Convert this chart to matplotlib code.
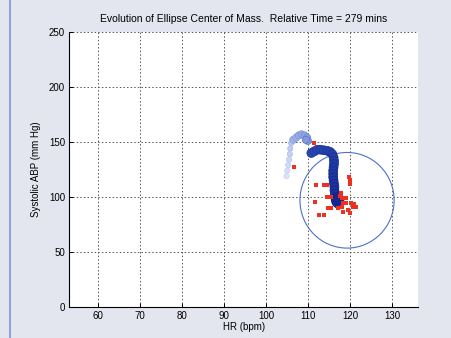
import numpy as np
import matplotlib.pyplot as plt
from matplotlib.patches import Ellipse
from matplotlib.lines import Line2D
from matplotlib.colors import LinearSegmentedColormap

# ellipse centre-of-mass trail, time ordered (earliest first)
trail_hr = [104.9, 105.1, 105.3, 105.5, 105.7, 105.8, 106.0,
            106.5, 107.2, 107.8, 108.5, 109.2, 109.8, 110.0, 109.5,
            110.8, 111.5, 112.2, 113.0, 113.8, 114.6, 115.3, 115.8, 116.1,
            116.2, 116.2, 116.1, 116.0, 116.0, 116.0, 116.1, 116.2, 116.3,
            116.3, 116.4, 116.5, 116.6, 116.8, 117.1, 117.4, 117.5, 117.3,
            116.9, 116.6]
trail_sbp = [119, 124, 129, 134, 139, 144, 149,
             152, 154, 156, 157, 156, 154, 151, 152,
             140, 141.5, 143, 143, 142.5, 142, 141, 139, 136,
             133, 130, 127, 124, 121, 118, 115, 112, 109,
             106, 103, 100, 97, 95, 94, 95, 97, 99,
             100, 98]

# current beat samples
beat_hr = [111.4, 106.6, 119.7, 119.9, 120.0, 111.9, 113.8, 114.6, 111.7,
           117.9, 117.6, 118.1, 119.1, 118.3, 119.1, 120.3, 121.0, 121.4,
           120.8, 117.1, 118.1, 118.3, 119.5, 119.9, 114.8, 115.6, 112.7,
           113.8, 114.6, 115.4]
beat_sbp = [149.4, 127.0, 118.5, 115.0, 112.0, 111.2, 111.2, 111.2, 95.2,
            103.4, 100.9, 98.8, 98.8, 94.3, 94.3, 94.8, 93.6, 91.2,
            90.6, 89.7, 90.6, 86.6, 88.2, 85.2, 89.7, 89.7, 83.6,
            83.6, 99.7, 99.7]

ell_center = (119.3, 97.0)
ell_width, ell_height = 22.4, 87.0

title = 'Evolution of Ellipse Center of Mass.  Relative Time = 279 mins'

plt.rcParams['font.family'] = ['Liberation Sans', 'DejaVu Sans']
fig = plt.figure(figsize=(4.52, 3.38), dpi=100, facecolor='#e4e6ef')
ax = fig.add_axes([0.153, 0.092, 0.772, 0.813])

cmap = LinearSegmentedColormap.from_list(
    'trail', ['#e6ebf9', '#b9c7ef', '#8098dc', '#2c48b0', '#12268c'])
n = len(trail_hr)
idx = np.arange(n)
t = np.where(idx < 7, 0.05 + idx * 0.03, np.where(idx < 15, 0.35 + (idx - 7) * 0.02, 0.75 + (idx - 15) / (n - 15) * 0.25))
sizes = np.where(idx < 7, 14, np.where(idx < 15, 26, 40))
ax.scatter(trail_hr, trail_sbp, c=cmap(t), s=sizes, edgecolors=cmap(np.minimum(t + 0.1, 1)),
           linewidths=0.6, zorder=3)

ax.scatter(beat_hr, beat_sbp, marker='s', s=7, color='#ee3020', linewidths=0, zorder=4)

ax.add_patch(Ellipse(ell_center, ell_width, ell_height, fill=False,
                     edgecolor='#4f70c8', linewidth=0.8, zorder=2))

ax.set_xlim(53.2, 136.2)
ax.set_ylim(0, 250)
ax.set_xticks(np.arange(60, 131, 10))
ax.set_yticks(np.arange(0, 251, 50))
ax.tick_params(direction='in', length=3, width=0.7, labelsize=7, pad=3)
ax.grid(True, color='#555555', linestyle=(0, (1.5, 2.2)), linewidth=0.7)
ax.set_axisbelow(True)
for side in ['top', 'right']:
    ax.spines[side].set_visible(False)
for side in ['left', 'bottom']:
    ax.spines[side].set_linewidth(0.8)

ax.set_title(title, fontsize=7.5, pad=7)
ax.set_xlabel('HR (bpm)', fontsize=7, labelpad=1)
ax.set_ylabel('Systolic ABP (mm Hg)', fontsize=7, labelpad=6)

fig.add_artist(Line2D([0.022, 0.022], [0, 1], transform=fig.transFigure,
                      color='#8ea2e2', linewidth=1.5))

fig.savefig('out.png', dpi=100, facecolor=fig.get_facecolor())
